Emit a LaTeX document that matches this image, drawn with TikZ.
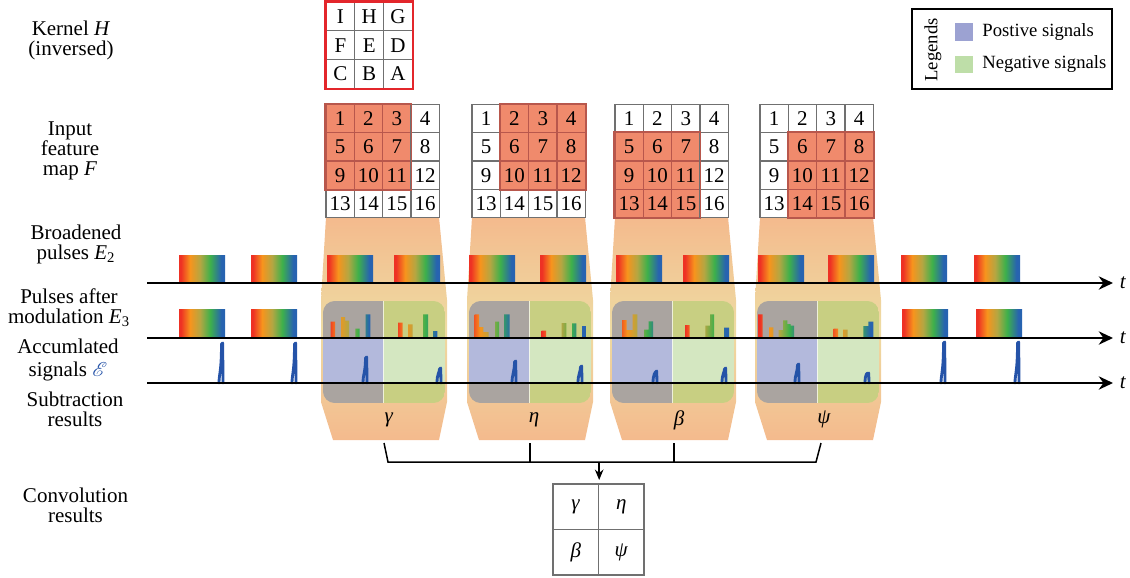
\documentclass[tikz,border=0pt]{standalone}
\usepackage{fontspec}
\setmainfont{Liberation Serif}
\usepackage{mathrsfs}
\usepackage{tikz}
\usetikzlibrary{calc, arrows.meta, positioning}

% colours
\definecolor{gridGray}{HTML}{707070}
\definecolor{kernelRed}{HTML}{E3262B}
\definecolor{hotCell}{HTML}{F08A6C}
\definecolor{hotEdge}{HTML}{B8574C}
\definecolor{bandOrange}{HTML}{F4BA8D}
\definecolor{bandYellow}{HTML}{EEDBA2}
\definecolor{posGray}{HTML}{AAA4A0}
\definecolor{negOlive}{HTML}{C8CF82}
\definecolor{posBlue}{HTML}{B3B9DC}
\definecolor{negGreen}{HTML}{D4E7C1}
\definecolor{keyBlue}{HTML}{9CA2D2}
\definecolor{keyGreen}{HTML}{BEDEA8}
\definecolor{spikeBlue}{HTML}{2553A8}
\definecolor{specRed}{HTML}{EE3124}
\definecolor{specOrange}{HTML}{F7941D}
\definecolor{specOlive}{HTML}{B4A642}
\definecolor{specGreen}{HTML}{3DB04B}
\definecolor{specBlue}{HTML}{2763B0}

\pgfdeclarehorizontalshading{spectrum}{100bp}{color(0bp)=(specRed); color(27bp)=(specRed); color(37bp)=(specOrange); color(48bp)=(specOlive); color(59bp)=(specGreen); color(71bp)=(specBlue); color(100bp)=(specBlue)}

% a pulse on the time axis
\newcommand{\pulse}[2]{\shade[shading=spectrum] (#1,#2) rectangle ++(46,28);}
% pulse cut into bars after modulation
\newcommand{\modpulse}[2]{%
  \begin{scope}
    \clip \foreach \xa/\xb/\yt in {#2} {(\xa,338) rectangle (\xb,\yt)};
    \shade[shading=spectrum] (#1,300) rectangle ++(46,38);
  \end{scope}}
% detector peak
\newcommand{\spike}[2]{\draw[peakline] ({#1-3},383) .. controls ({#1-3},374) and ({#1-0.5},372) .. ({#1-0.5},{#2+1}) -- ({#1+0.7},#2) -- ({#1+1},383);}

\begin{document}
\begin{tikzpicture}[
  x=0.6pt, y=-0.6pt,
  >={Stealth[length=3mm, width=2.8mm]},
  rowlabel/.style={align=center, inner sep=0, font=\fontsize{12.6}{12}\selectfont},
  cell/.style={draw=gridGray, line width=0.8pt, minimum size=17pt, inner sep=0,
    font=\fontsize{12.6}{12}\selectfont},
  band/.style={top color=bandOrange, bottom color=bandOrange, middle color=bandYellow},
  peakline/.style={draw=spikeBlue, line width=1.7pt, line join=round, line cap=round},
  timeaxis/.style={->, line width=1.5pt},
  joinline/.style={line width=0.9pt},
  swatch/.style={minimum size=10.5pt, inner sep=0},
  keytext/.style={inner sep=0, font=\fontsize{11.2}{12}\selectfont}
]
\useasboundingbox (0,0) rectangle (1130,577);

% Row labels
\node[rowlabel] (Kernel_Label) at (71,40) {Kernel \textit{H}\\(inversed)};
\node[rowlabel] (Input_Label) at (70,151) {Input\\feature\\map \textit{F}};
\node[rowlabel] (Broadened_Label) at (76,244) {Broadened\\pulses \textit{E}\textsubscript{2}};
\node[rowlabel] (Modulation_Label) at (69,308) {Pulses after\\modulation \textit{E}\textsubscript{3}};
\node[rowlabel] (Accum_Label) at (68,360) {Accumlated\\[1.5pt]signals \textcolor{spikeBlue}{$\mathscr{E}$}};
\node[rowlabel] (Subtraction_Label) at (75,409) {Subtraction\\results};
\node[rowlabel] (Convolution_Label) at (75.5,505) {Convolution\\results};

% Kernel
\foreach \lab [count=\i from 0] in {I,H,G,F,E,D,C,B,A}
  \node[cell, minimum size=17.3pt] (Kernel_\i) at ({340.4+28.8*mod(\i,3)},{16.4+28.8*int(\i/3)}) {\lab};
\draw[kernelRed, line width=1.5pt] (Kernel_0.north west) rectangle (Kernel_8.south east);

% Feature map windows with their bands
\foreach \g/\gx/\co/\ro in {1/326/0/0, 2/472/1/0, 3/615/0/1, 4/760/1/1} {
  \shade[band] (\gx,217) -- ({\gx+113},217) -- ({\gx+121},300) -- ({\gx+121},402)
    -- ({\gx+113},440) -- ({\gx+7},440) -- ({\gx-5},402) -- ({\gx-5},300) -- cycle;
  \foreach \n in {0,...,15} {
    \pgfmathtruncatemacro\col{mod(\n,4)}
    \pgfmathtruncatemacro\row{\n/4}
    \pgfmathtruncatemacro\hit{(\col>=\co)&&(\col<=\co+2)&&(\row>=\ro)&&(\row<=\ro+2)}
    \ifnum\hit=1 \def\cellfill{hotCell}\def\celldraw{hotEdge}\else\def\cellfill{white}\def\celldraw{gridGray}\fi
    \pgfmathtruncatemacro\num{\n+1}
    \node[cell, fill=\cellfill, draw=\celldraw] (Grid_\g_\num)
      at ({\gx+14.15+28.3*\col},{104.5+14.15+28.3*\row}) {\num};
  }
  \pgfmathtruncatemacro\first{\ro*4+\co+1}
  \pgfmathtruncatemacro\last{\first+10}
  \draw[hotEdge, line width=1pt] (Grid_\g_\first.north west) rectangle (Grid_\g_\last.south east);
  % split box: positive / negative halves
  \begin{scope}
    \clip[rounded corners=7pt] ({\gx-3},301) rectangle ({\gx+119},403);
    \fill[posGray] ({\gx-3},301) rectangle ({\gx+57},403);
    \fill[negOlive] ({\gx+57},301) rectangle ({\gx+119},403);
    \fill[posBlue] ({\gx-3},338) rectangle ({\gx+57},383);
    \fill[negGreen] ({\gx+57},338) rectangle ({\gx+119},383);
    \draw[white, opacity=0.7, line width=0.6pt] ({\gx+57},301) -- ({\gx+57},403);
  \end{scope}
}

% Broadened pulses
\foreach \px in {179,251,327,394,469,540,616,683,758,828,901,974}
  {\pulse{\px}{255}}

% Pulses after modulation
\foreach \px in {179,251,902,976}
  {\pulse{\px}{309}}
\modpulse{327}{330.7/335/321.7, 341/345/317, 345/349/320.7, 355.3/359.7/328.7, 365.7/370.3/314.3}
\modpulse{394}{398/402.7/322.7, 408/412.7/324.3, 423/428/314.3, 433/437.3/331}
\modpulse{469}{474.7/479/314.3, 479/483.3/327, 483.3/488.7/332, 495/499/321.7, 504/509.7/314.3}
\modpulse{540}{541.7/546/330.7, 561.7/566.3/323, 572/576.3/323.3, 582/586/326}
\modpulse{616}{622/626.7/320, 626.7/632.7/330, 632.7/637.3/314.3, 644/648.7/329.7, 648.7/653/321.3}
\modpulse{683}{685.3/689.7/325, 705.3/710/325.7, 710/714/314.3, 724/730/327.7}
\modpulse{758}{758/762.7/314.3, 769/773.3/327.3, 778.7/783/330, 783/787.3/320.3, 787.3/790.7/324, 790.7/794/325.7}
\modpulse{828}{833.7/838/328.7, 843/847.7/329.7, 863.3/868.3/326, 868.3/873.3/321.7}

% Accumulated signals
\foreach \sx/\sy in {222/343, 295/343, 366/357, 440/368, 515/361, 581/366,
                     656/371, 725/368, 798/364, 868/373, 944/342, 1018/342}
  {\spike{\sx}{\sy}}

% Time axes
\foreach \k/\ay in {1/283, 2/338, 3/383} {
  \coordinate (Axis_\k_start) at (147,\ay);
  \coordinate (Axis_\k_end) at (1113,\ay);
  \draw[timeaxis] (Axis_\k_start) -- (Axis_\k_end)
    node[right=0pt, font=\fontsize{12.6}{12}\selectfont] {\textit{t}};
}

% Subtraction results
\node[rowlabel] (Sub_1) at (389,420) {\textit{γ}};
\node[rowlabel] (Sub_2) at (534,420) {\textit{η}};
\node[rowlabel] (Sub_3) at (679,420) {\textit{β}};
\node[rowlabel] (Sub_4) at (824,419) {\textit{ψ}};

% Convolution results
\node[cell, minimum size=27.3pt] (Conv_1) at (575.75,506.75) {\textit{γ}};
\node[cell, minimum size=27.3pt] (Conv_2) at (621.25,506.75) {\textit{η}};
\node[cell, minimum size=27.3pt] (Conv_3) at (575.75,552.25) {\textit{β}};
\node[cell, minimum size=27.3pt] (Conv_4) at (621.25,552.25) {\textit{ψ}};

% Edges
\coordinate (Tick_1) at (384,443);
\coordinate (Tick_2) at (530,443);
\coordinate (Tick_3) at (674,443);
\coordinate (Tick_4) at (821,443);
\coordinate (Join_1) at (388,462);
\coordinate (Join_4) at (816,462);
\draw[joinline] (Tick_1) -- (Join_1) -- (Join_4) -- (Tick_4);
\draw[joinline] (Tick_2) -- (Tick_2 |- Join_1);
\draw[joinline] (Tick_3) -- (Tick_3 |- Join_1);
\draw[joinline, -{Stealth[length=2.2mm, width=1.8mm]}, shorten >=2pt]
  (Conv_1.north east |- Join_1) -- (Conv_1.north east);

% Legend
\node[draw, line width=1.2pt, minimum width=120pt, minimum height=48pt, inner sep=0] (Legend_Box) at (1012,49) {};
\node[keytext, rotate=90] (Legend_Title) at (933,50) {Legends};
\node[swatch, fill=keyBlue] (Pos_Key) at (964,32) {};
\node[swatch, fill=keyGreen] (Neg_Key) at (964,64.5) {};
\node[keytext, right=5.4pt of Pos_Key] (Pos_Text) {Postive signals};
\node[keytext, right=5.4pt of Neg_Key] (Neg_Text) {Negative signals};

\end{tikzpicture}
\end{document}
